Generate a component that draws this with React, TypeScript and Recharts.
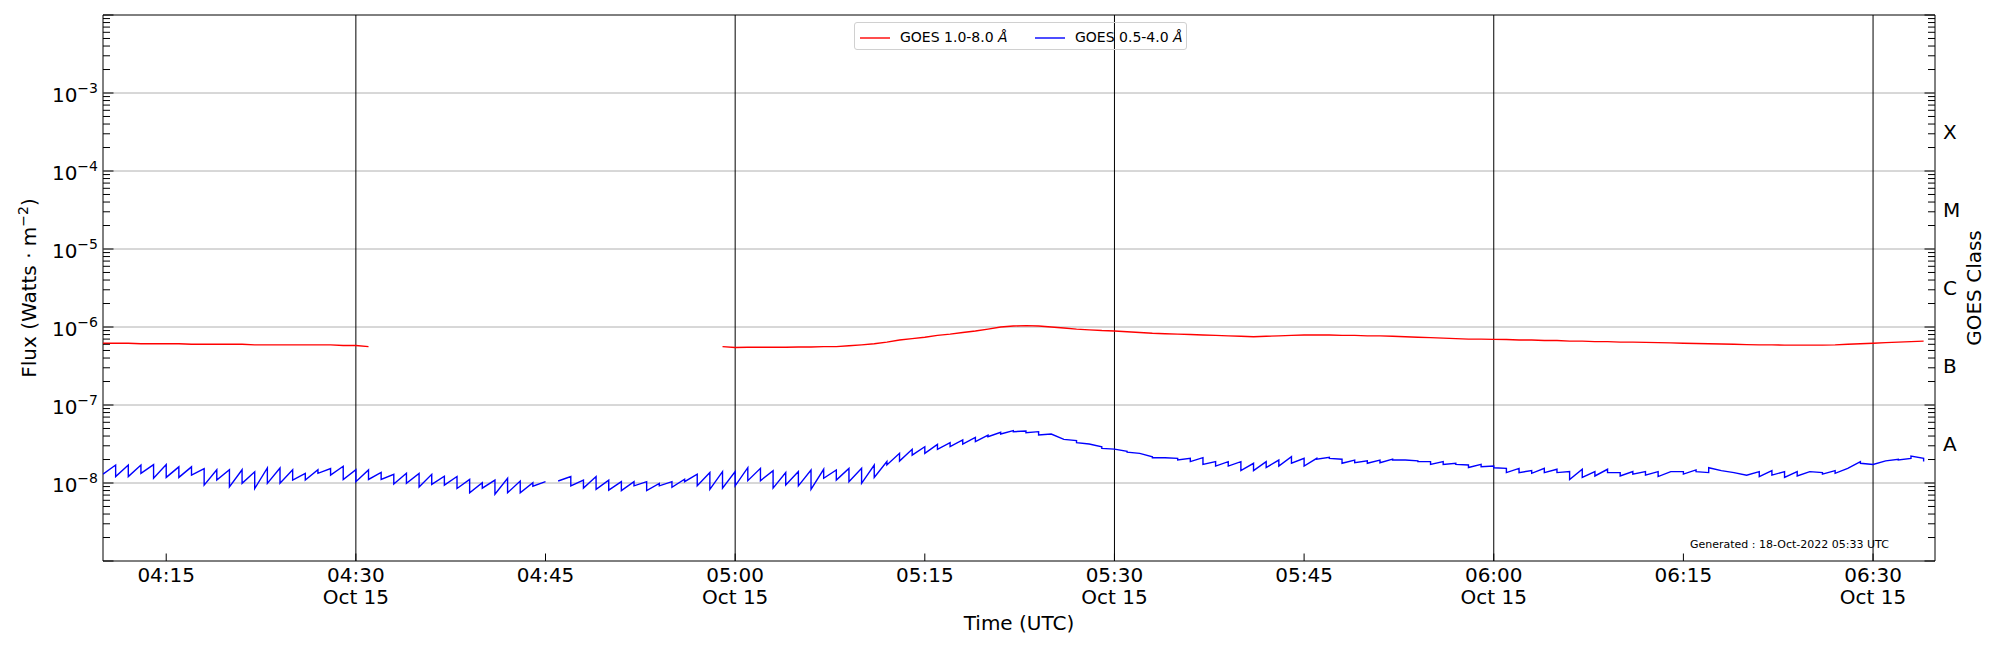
import React from "react";
import { LineChart, Line, XAxis, YAxis, ReferenceLine, ReferenceArea } from "recharts";

// x is minutes after 04:10 UT on 15 Oct 2022
const xTicks = [5, 20, 35, 50, 65, 80, 95, 110, 125, 140];
const xTickLabels = ["04:15", "04:30", "04:45", "05:00", "05:15", "05:30", "05:45", "06:00", "06:15", "06:30"];
const dateLabel = "Oct 15";
const halfHourLines = [20, 50, 80, 110, 140];
const xEnd = 144.9;

const decades = [-9, -8, -7, -6, -5, -4, -3, -2];
const minorSteps = [2, 3, 4, 5, 6, 7, 8, 9];
const labelledDecades = [-8, -7, -6, -5, -4, -3];
const goesClasses = ["A", "B", "C", "M", "X"];
const classExponents = [-7.5, -6.5, -5.5, -4.5, -3.5];

// GOES 1.0-8.0 A, one reading per minute, in 1e-7 W/m^2 (null = no data)
const longFlux: (number | null)[] = [
  6.2, 6.2, 6.2, 6.1, 6.1, 6.1, 6.1, 6.0, 6.0, 6.0, 6.0, 6.0, 5.9, 5.9, 5.9, 5.9, 5.9, 5.9, 5.9, 5.8,
  5.8, 5.6, null, null, null, null, null, null, null, null, null, null, null, null, null, null, null, null, null, null,
  null, null, null, null, null, null, null, null, null, 5.6, 5.45, 5.5, 5.5, 5.5, 5.5, 5.55, 5.55, 5.6, 5.6, 5.75,
  5.9, 6.1, 6.4, 6.8, 7.1, 7.4, 7.8, 8.1, 8.5, 8.9, 9.4, 10.0, 10.3, 10.4, 10.3, 10.0, 9.7, 9.4, 9.2, 9.0,
  8.9, 8.7, 8.5, 8.3, 8.2, 8.1, 8.0, 7.9, 7.8, 7.7, 7.6, 7.5, 7.6, 7.7, 7.8, 7.9, 7.9, 7.9, 7.8, 7.8,
  7.7, 7.7, 7.6, 7.5, 7.4, 7.3, 7.2, 7.1, 7.0, 7.0, 6.95, 6.9, 6.8, 6.8, 6.7, 6.7, 6.6, 6.6, 6.5, 6.5,
  6.4, 6.4, 6.35, 6.3, 6.25, 6.2, 6.15, 6.1, 6.05, 6.0, 5.95, 5.9, 5.9, 5.85, 5.85, 5.85, 5.85, 5.9, 6.0, 6.1,
  6.2, 6.3, 6.4, 6.5, 6.6,
];

// GOES 0.5-4.0 A, per minute: value at the start of the minute and at its end, in 1e-8 W/m^2
const shortStart: (number | null)[] = [
  1.30, 1.21, 1.21, 1.33, 1.15, 1.18, 1.18, 1.26, 0.94, 1.09, 0.89, 0.99, 0.85, 0.99, 0.99, 1.09, 1.09, 1.33, 1.26, 1.11,
  1.04, 1.11, 1.11, 0.97, 0.99, 0.89, 0.96, 0.94, 0.85, 0.75, 0.86, 0.72, 0.75, 0.75, 0.91, null, 1.06, 0.92, 0.86, 0.83,
  0.81, 0.80, 0.92, 0.80, 0.92, 0.88, 1.04, 0.92, 0.83, 0.86, 0.92, 1.07, 1.07, 0.86, 0.94, 0.92, 0.83, 1.15, 1.09, 1.04,
  0.99, 1.18, 1.70, 1.91, 2.28, 2.40, 2.70, 2.92, 3.16, 3.39, 3.92, 4.25, 4.55, 4.42, 4.12, 4.25, 3.62, 3.29, 3.16, 2.78,
  2.72, 2.49, 2.40, 2.11, 2.11, 1.97, 1.88, 1.73, 1.65, 1.65, 1.44, 1.44, 1.58, 1.65, 1.79, 1.65, 2.02, 2.07, 1.79, 1.82,
  1.79, 1.82, 1.97, 1.97, 1.88, 1.73, 1.73, 1.73, 1.58, 1.62, 1.57, 1.36, 1.36, 1.33, 1.36, 1.36, 1.11, 1.18, 1.23, 1.36,
  1.23, 1.30, 1.26, 1.21, 1.40, 1.30, 1.40, 1.57, 1.44, 1.36, 1.26, 1.21, 1.26, 1.18, 1.23, 1.40, 1.30, 1.33, 1.54, 1.79,
  1.73, 1.92, 1.97, 2.22, 1.88,
];
const shortEnd: (number | null)[] = [
  1.70, 1.70, 1.70, 1.72, 1.72, 1.61, 1.61, 1.53, 1.48, 1.48, 1.48, 1.39, 1.56, 1.56, 1.48, 1.33, 1.48, 1.53, 1.64, 1.48,
  1.47, 1.37, 1.29, 1.33, 1.33, 1.29, 1.22, 1.21, 1.11, 1.01, 1.09, 1.15, 1.06, 1.01, 1.04, null, 1.21, 1.09, 1.21, 1.09,
  1.04, 1.04, 1.04, 0.99, 1.04, 1.12, 1.30, 1.36, 1.40, 1.40, 1.57, 1.54, 1.44, 1.36, 1.40, 1.47, 1.50, 1.47, 1.54, 1.54,
  1.70, 1.88, 2.40, 2.70, 2.92, 3.13, 3.29, 3.56, 3.85, 4.12, 4.46, 4.69, 4.64, 4.55, 4.25, 3.62, 3.49, 3.16, 2.92, 2.72,
  2.54, 2.40, 2.17, 2.11, 2.07, 2.07, 2.11, 1.88, 1.88, 1.88, 1.79, 1.88, 1.97, 2.17, 2.07, 2.07, 2.13, 2.02, 1.97, 1.92,
  1.97, 2.02, 1.97, 1.92, 1.88, 1.88, 1.79, 1.70, 1.73, 1.65, 1.54, 1.54, 1.44, 1.54, 1.50, 1.40, 1.50, 1.40, 1.50, 1.36,
  1.40, 1.40, 1.40, 1.40, 1.40, 1.47, 1.36, 1.44, 1.36, 1.26, 1.40, 1.44, 1.40, 1.40, 1.40, 1.36, 1.44, 1.54, 1.88, 1.73,
  1.92, 2.02, 2.07, 2.07,
];

const longData = longFlux.map((v, m) => ({ t: m, v: v == null ? null : v * 1e-7 }));

const shortData: { t: number; v: number | null }[] = [];
shortStart.forEach((s, m) => {
  if (s == null) {
    shortData.push({ t: m + 0.5, v: null });
    return;
  }
  shortData.push({ t: m, v: s * 1e-8 });
  const e = shortEnd[m];
  if (e != null) shortData.push({ t: m + 1, v: e * 1e-8 });
});

const majorTicks = decades.map((e) => Math.pow(10, e));
const minorTicks = decades.slice(0, -1).flatMap((e) => minorSteps.map((k) => k * Math.pow(10, e)));
const leftTicks = [...majorTicks, ...minorTicks];
const classTicks = classExponents.map((e) => Math.pow(10, e));
const rightTicks = [...leftTicks, ...classTicks];
const gridValues = labelledDecades.map((e) => Math.pow(10, e));

const FONT = "DejaVu Sans";

const isDecade = (v: number) => Math.abs(Math.log10(v) - Math.round(Math.log10(v))) < 1e-9;

const TimeTick = (props: any) => {
  const { x, y, payload } = props;
  const i = xTicks.indexOf(payload.value);
  return (
    <g>
      <line x1={x} x2={x} y1={y} y2={y - 7.5} stroke="#000" />
      <text x={x} y={y + 21} textAnchor="middle" fontSize={20} fontFamily={FONT} fill="#000">
        {xTickLabels[i]}
      </text>
      {i % 2 === 1 && (
        <text x={x} y={y + 43} textAnchor="middle" fontSize={20} fontFamily={FONT} fill="#000">
          {dateLabel}
        </text>
      )}
    </g>
  );
};

const FluxTick = (props: any) => {
  const { x, y, payload } = props;
  const v = payload.value;
  const major = isDecade(v);
  const e = Math.round(Math.log10(v));
  return (
    <g>
      <line x1={x} x2={x + (major ? 10.5 : 7)} y1={y} y2={y} stroke="#000" />
      {major && labelledDecades.includes(e) && (
        <text x={x - 5} y={y + 8.7} textAnchor="end" fontSize={20} fontFamily={FONT} fill="#000">
          10
          <tspan dy={-9} fontSize={14}>
            {"\u2212" + -e}
          </tspan>
        </text>
      )}
    </g>
  );
};

const ClassTick = (props: any) => {
  const { x, y, payload } = props;
  const v = payload.value;
  const ci = classTicks.findIndex((c) => Math.abs(c - v) / c < 1e-6);
  if (ci >= 0) {
    return (
      <text x={x + 8} y={y + 7.3} fontSize={20} fontFamily={FONT} fill="#000">
        {goesClasses[ci]}
      </text>
    );
  }
  const major = isDecade(v);
  return <line x1={x} x2={x - (major ? 10.5 : 7)} y1={y} y2={y} stroke="#000" />;
};

const TimeLabel = (props: any) => {
  const vb = props.viewBox || { x: 103, y: 561, width: 1832, height: 89 };
  return (
    <text x={vb.x + vb.width / 2} y={vb.y + 69} textAnchor="middle" fontSize={20} fontFamily={FONT} fill="#000">
      Time (UTC)
    </text>
  );
};

const FluxLabel = (props: any) => {
  const vb = props.viewBox || { x: 0, y: 15, width: 103, height: 546 };
  return (
    <text
      transform={`translate(36, ${vb.y + vb.height / 2}) rotate(-90)`}
      textAnchor="middle"
      fontSize={20}
      fontFamily={FONT}
      fill="#000"
    >
      {"Flux (Watts \u00b7 m"}
      <tspan dy={-8} fontSize={14}>
        {"\u22122"}
      </tspan>
      <tspan dy={8}>)</tspan>
    </text>
  );
};

const ClassLabel = (props: any) => {
  const vb = props.viewBox || { x: 1935, y: 15, width: 65, height: 546 };
  return (
    <text
      transform={`translate(1981, ${vb.y + vb.height / 2}) rotate(-90)`}
      textAnchor="middle"
      fontSize={20}
      fontFamily={FONT}
      fill="#000"
    >
      GOES Class
    </text>
  );
};

const legendItems = [
  { name: "GOES 1.0-8.0 ", color: "#ff0000", line: 5, text: 45 },
  { name: "GOES 0.5-4.0 ", color: "#0000ff", line: 180, text: 220 },
];

const App = () => {
  return (
    <div
      style={{
        position: "absolute",
        left: 0,
        top: 0,
        width: 2000,
        height: 650,
        background: "#fff",
        fontFamily: FONT,
        overflow: "hidden",
      }}
    >
      <LineChart width={2000} height={650} margin={{ top: 15, right: 0, bottom: 0, left: 0 }}>
        <XAxis
          type="number"
          dataKey="t"
          domain={[0, xEnd]}
          allowDataOverflow
          ticks={xTicks}
          interval={0}
          tick={TimeTick}
          tickSize={0}
          tickMargin={0}
          tickLine={false}
          axisLine={false}
          height={89}
          label={TimeLabel}
        />
        <YAxis
          yAxisId="left"
          scale="log"
          type="number"
          domain={[1e-9, 1e-2]}
          allowDataOverflow
          ticks={leftTicks}
          interval={0}
          tick={FluxTick}
          tickSize={0}
          tickMargin={0}
          tickLine={false}
          axisLine={false}
          width={103}
          label={FluxLabel}
        />
        <YAxis
          yAxisId="right"
          orientation="right"
          scale="log"
          type="number"
          domain={[1e-9, 1e-2]}
          allowDataOverflow
          ticks={rightTicks}
          interval={0}
          tick={ClassTick}
          tickSize={0}
          tickMargin={0}
          tickLine={false}
          axisLine={false}
          width={65}
          label={ClassLabel}
        />
        {gridValues.map((g) => (
          <ReferenceLine key={"g" + g} yAxisId="left" y={g} stroke="#b0b0b0" strokeWidth={1} />
        ))}
        {halfHourLines.map((t) => (
          <ReferenceLine key={"t" + t} yAxisId="left" x={t} stroke="#000" strokeWidth={1} />
        ))}
        <Line
          yAxisId="left"
          data={longData}
          dataKey="v"
          type="linear"
          stroke="#ff0000"
          strokeWidth={1.4}
          dot={false}
          connectNulls={false}
          isAnimationActive={false}
        />
        <Line
          yAxisId="left"
          data={shortData}
          dataKey="v"
          type="linear"
          stroke="#0000ff"
          strokeWidth={1.4}
          dot={false}
          connectNulls={false}
          isAnimationActive={false}
        />
        <ReferenceArea
          yAxisId="left"
          x1={0}
          x2={xEnd}
          y1={1e-9}
          y2={1e-2}
          fill="none"
          fillOpacity={0}
          stroke="#000"
          strokeWidth={1}
          ifOverflow="visible"
        />
      </LineChart>

      <div
        style={{
          position: "absolute",
          left: 854,
          top: 22,
          width: 333,
          height: 28,
          boxSizing: "border-box",
          border: "1px solid #d0d0d0",
          borderRadius: 3,
        }}
      >
        {legendItems.map((it) => (
          <React.Fragment key={it.name}>
            <svg
              width={30}
              height={4}
              style={{ position: "absolute", left: it.line, top: 13 }}
            >
              <line x1={0} x2={30} y1={2} y2={2} stroke={it.color} strokeWidth={1.4} />
            </svg>
            <span
              style={{
                position: "absolute",
                left: it.text,
                top: 6.9,
                fontSize: 14,
                lineHeight: "14px",
                whiteSpace: "nowrap",
                color: "#000",
              }}
            >
              {it.name}
              <i>Å</i>
            </span>
          </React.Fragment>
        ))}
      </div>

      <div
        style={{
          position: "absolute",
          left: 1690,
          top: 538.5,
          fontSize: 11,
          lineHeight: "11px",
          whiteSpace: "nowrap",
          color: "#000",
        }}
      >
        Generated : 18-Oct-2022 05:33 UTC
      </div>
    </div>
  );
};

export default App;
